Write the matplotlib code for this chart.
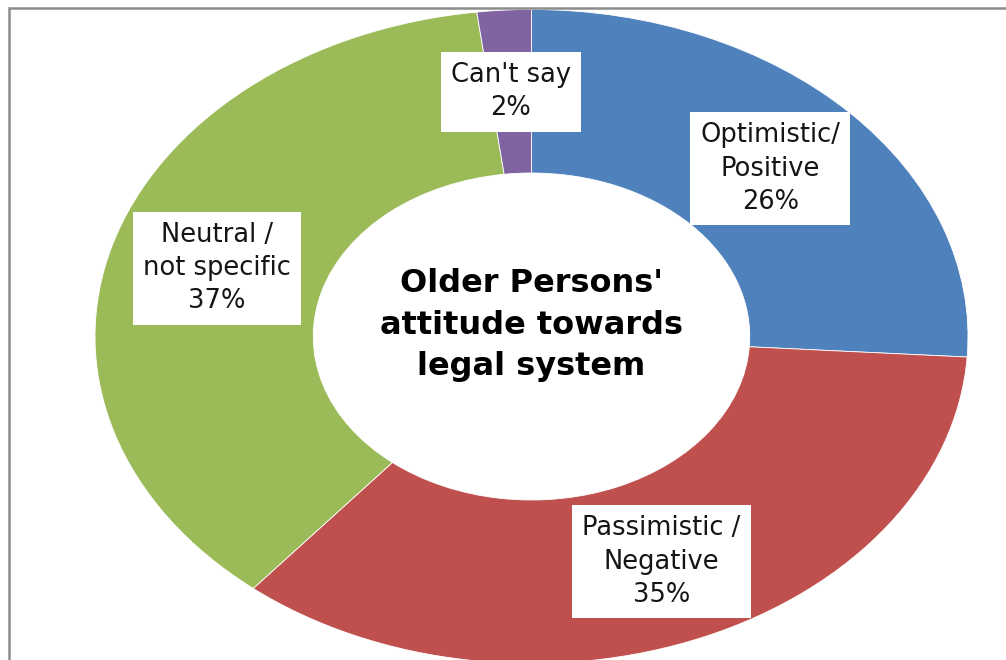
import matplotlib.pyplot as plt
import numpy as np
from matplotlib.patches import Rectangle

categories = ["Optimistic/\nPositive", "Passimistic /\nNegative", "Neutral /\nnot specific", "Can't say"]
shares = [26, 35, 37, 2]
colors = ["#4F81BD", "#C0504D", "#9BBB59", "#8064A2"]
title = "Older Persons'\nattitude towards\nlegal system"

W, H = 1006, 660
# ellipse centre and half-axes in pixels (the chart is stretched horizontally)
cx, cy = 531.5, 336.5
rx, ry = 436.5, 327.0

plt.rcParams['font.family'] = ['DejaVu Sans']

fig = plt.figure(figsize=(W / 100, H / 100), dpi=100)
ax = fig.add_axes([0, 0, 1, 1])

wedges, _ = ax.pie(shares, colors=colors, startangle=90, counterclock=False,
                   radius=1.0, wedgeprops=dict(width=0.5, edgecolor="white", linewidth=0.6))

ax.set_aspect("auto")
ax.set_xlim(-cx / rx, (W - cx) / rx)
ax.set_ylim(-(H - cy) / ry, cy / ry)
ax.axis("off")

for w, name, pct in zip(wedges, categories, shares):
    ang = np.deg2rad((w.theta1 + w.theta2) / 2)
    x, y = 0.75 * np.cos(ang), 0.75 * np.sin(ang)
    ax.text(x, y, f"{name}\n{pct}%", ha="center", va="center", fontsize=18.5,
            linespacing=1.36, color="#151515",
            bbox=dict(boxstyle="square,pad=0.4", fc="white", ec="none"))

ax.text(0, 0.035, title, ha="center", va="center", fontsize=23, fontweight="bold",
        linespacing=1.42, color="black")

# outer frame, clipped by the image on right and bottom
fig.add_artist(Rectangle((9 / W, -0.1), 1.2, (H - 8) / H + 0.1, transform=fig.transFigure,
                         fill=False, ec="#8c8c8c", lw=1.8))

fig.savefig("out.png", dpi=100)
